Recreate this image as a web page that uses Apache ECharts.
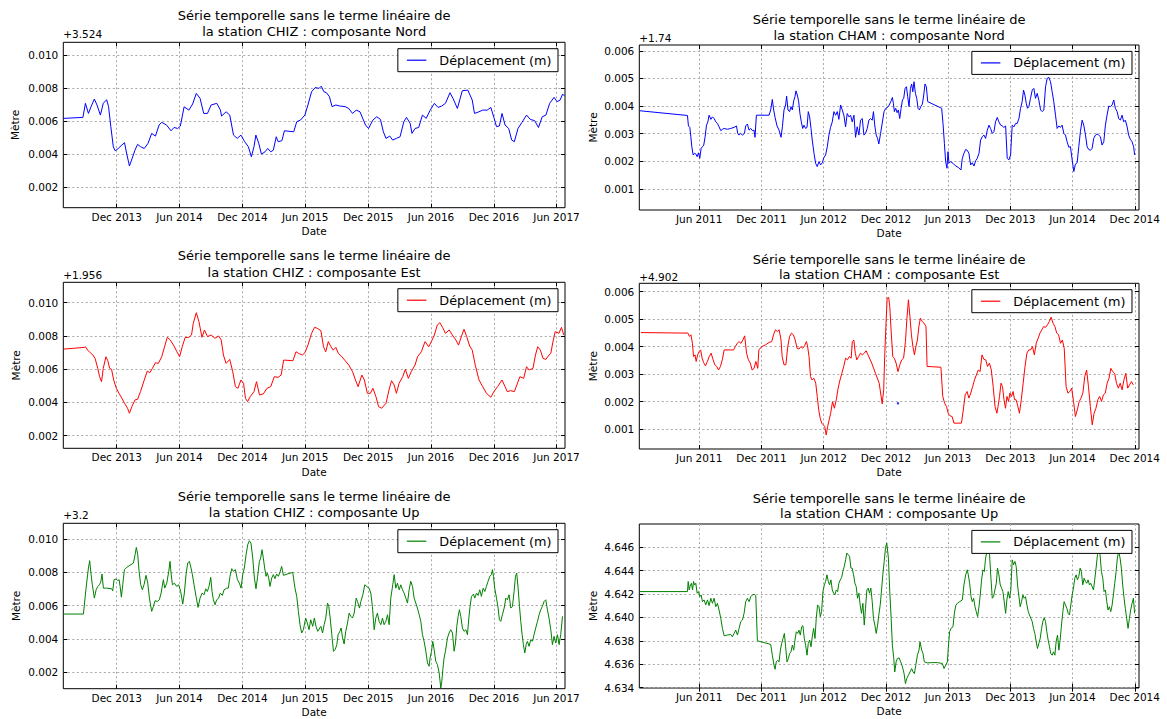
<!DOCTYPE html>
<html><head><meta charset="utf-8">
<script src="https://cdn.jsdelivr.net/npm/echarts@6/dist/echarts.min.js"></script>
<style>html,body{margin:0;padding:0;background:#fff}#c{width:1167px;height:719px}</style>
</head><body><div id="c"></div>
<script>
// x values: decimal years; y values: millimetres relative to each panel's base (offset)
const MONTHS = ['Jan','Feb','Mar','Apr','May','Jun','Jul','Aug','Sep','Oct','Nov','Dec'];
const chizTickLabels = ['Dec 2013','Jun 2014','Dec 2014','Jun 2015','Dec 2015','Jun 2016','Dec 2016','Jun 2017'];
const chamTickLabels = ['Jun 2011','Dec 2011','Jun 2012','Dec 2012','Jun 2013','Dec 2013','Jun 2014','Dec 2014'];
const yTicksChiz = [2,4,6,8,10];
const yTicksChamNE = [1,2,3,4,5,6];
const yTicksChamUp = [0,2,4,6,8,10,12];
const offsetTexts = ['+3.524','+1.74','+1.956','+4.902','+3.2',''];
const chamUpBase = 4.634;

const chizNord = [[2013.492,6.17],[2013.646,6.23],[2013.666,7.08],[2013.690,6.47],[2013.711,6.88],[2013.737,7.34],[2013.758,6.98],[2013.785,6.37],[2013.808,7.08],[2013.835,7.30],[2013.850,6.88],[2013.868,5.67],[2013.888,4.45],[2013.903,4.21],[2013.927,4.35],[2013.956,4.56],[2013.977,4.70],[2013.995,4.01],[2014.016,3.29],[2014.033,3.65],[2014.060,4.25],[2014.081,4.60],[2014.104,4.46],[2014.134,4.35],[2014.164,4.66],[2014.193,5.26],[2014.223,5.10],[2014.252,5.77],[2014.273,5.93],[2014.311,5.77],[2014.347,5.42],[2014.371,5.62],[2014.400,5.56],[2014.421,5.70],[2014.451,6.87],[2014.489,6.67],[2014.519,7.04],[2014.548,7.68],[2014.578,7.38],[2014.607,6.47],[2014.637,6.47],[2014.666,6.98],[2014.711,7.08],[2014.740,6.67],[2014.749,6.31],[2014.785,6.57],[2014.814,6.37],[2014.844,5.16],[2014.874,4.96],[2014.903,5.16],[2014.933,4.76],[2014.962,4.46],[2014.986,3.85],[2015.007,4.46],[2015.022,5.16],[2015.045,4.66],[2015.066,4.01],[2015.095,4.15],[2015.116,4.35],[2015.140,4.15],[2015.161,4.25],[2015.184,5.06],[2015.199,4.76],[2015.229,4.82],[2015.249,5.42],[2015.323,5.36],[2015.347,5.97],[2015.377,6.07],[2015.412,6.37],[2015.436,6.98],[2015.465,7.78],[2015.495,8.04],[2015.524,7.98],[2015.542,8.12],[2015.563,7.78],[2015.584,7.72],[2015.607,7.48],[2015.628,6.88],[2015.658,6.98],[2015.687,6.92],[2015.732,6.88],[2015.761,6.77],[2015.791,6.47],[2015.820,6.67],[2015.850,6.57],[2015.894,5.77],[2015.918,5.56],[2015.953,6.07],[2015.983,6.27],[2016.013,6.11],[2016.036,5.36],[2016.057,4.96],[2016.087,5.10],[2016.110,4.86],[2016.140,4.96],[2016.169,5.06],[2016.199,5.97],[2016.220,6.23],[2016.249,5.87],[2016.264,5.26],[2016.288,5.56],[2016.317,5.62],[2016.347,6.37],[2016.377,6.17],[2016.406,6.63],[2016.442,7.08],[2016.471,6.83],[2016.501,6.92],[2016.530,7.08],[2016.566,7.72],[2016.590,7.38],[2016.625,6.77],[2016.664,7.84],[2016.708,7.88],[2016.743,7.28],[2016.761,6.47],[2016.797,6.57],[2016.826,6.67],[2016.862,6.67],[2016.891,6.83],[2016.915,6.23],[2016.936,5.67],[2016.959,5.71],[2016.980,6.47],[2017.004,5.77],[2017.033,5.56],[2017.057,4.86],[2017.078,4.76],[2017.107,5.56],[2017.137,5.91],[2017.175,6.37],[2017.205,6.11],[2017.240,6.03],[2017.270,5.62],[2017.300,6.27],[2017.329,6.37],[2017.359,7.08],[2017.394,7.44],[2017.418,7.18],[2017.442,7.28],[2017.462,7.64],[2017.477,7.52]];

const chizEst = [[2013.492,7.21],[2013.655,7.31],[2013.666,7.35],[2013.684,7.15],[2013.705,6.99],[2013.726,6.85],[2013.743,6.65],[2013.764,6.05],[2013.779,5.55],[2013.794,5.25],[2013.808,6.05],[2013.829,6.75],[2013.844,6.51],[2013.859,6.05],[2013.874,5.99],[2013.891,5.35],[2013.912,4.85],[2013.933,4.55],[2013.956,4.25],[2013.977,3.95],[2014.001,3.65],[2014.016,3.35],[2014.036,3.75],[2014.060,4.15],[2014.081,4.19],[2014.104,4.65],[2014.134,5.35],[2014.158,5.89],[2014.178,5.79],[2014.199,6.05],[2014.223,6.39],[2014.246,6.35],[2014.273,6.75],[2014.297,7.39],[2014.317,7.92],[2014.341,7.76],[2014.371,7.39],[2014.394,7.05],[2014.415,6.75],[2014.436,7.35],[2014.459,7.90],[2014.489,7.92],[2014.510,8.06],[2014.524,8.76],[2014.548,9.40],[2014.569,8.86],[2014.593,7.92],[2014.613,8.36],[2014.637,7.96],[2014.666,8.06],[2014.696,7.86],[2014.726,8.00],[2014.746,7.76],[2014.764,6.85],[2014.785,6.35],[2014.814,6.59],[2014.838,5.85],[2014.859,4.95],[2014.879,4.85],[2014.903,5.35],[2014.924,5.15],[2014.939,4.25],[2014.956,4.05],[2014.977,4.35],[2015.007,4.65],[2015.027,5.25],[2015.051,4.45],[2015.081,4.51],[2015.110,4.85],[2015.140,4.95],[2015.169,5.55],[2015.199,5.51],[2015.223,5.65],[2015.243,6.55],[2015.317,6.51],[2015.341,7.05],[2015.362,6.95],[2015.391,6.85],[2015.412,6.99],[2015.436,7.45],[2015.465,8.16],[2015.489,8.52],[2015.510,8.46],[2015.539,8.32],[2015.560,7.35],[2015.578,7.05],[2015.598,7.66],[2015.619,7.35],[2015.637,7.15],[2015.658,7.31],[2015.678,6.95],[2015.702,6.79],[2015.732,6.51],[2015.761,6.25],[2015.791,5.85],[2015.814,5.35],[2015.835,4.95],[2015.865,5.65],[2015.885,5.35],[2015.909,4.55],[2015.933,4.55],[2015.953,4.85],[2015.977,4.35],[2015.998,3.75],[2016.022,3.65],[2016.057,3.95],[2016.081,4.75],[2016.101,5.31],[2016.122,5.05],[2016.140,4.55],[2016.161,5.15],[2016.190,5.55],[2016.211,5.99],[2016.235,5.45],[2016.258,5.85],[2016.288,6.25],[2016.308,6.75],[2016.338,7.05],[2016.368,7.66],[2016.397,7.35],[2016.418,7.66],[2016.442,8.06],[2016.465,8.66],[2016.486,8.80],[2016.507,8.52],[2016.530,8.16],[2016.560,8.36],[2016.584,8.06],[2016.613,7.76],[2016.634,7.45],[2016.658,8.00],[2016.678,8.40],[2016.699,7.96],[2016.723,7.39],[2016.743,7.15],[2016.767,6.25],[2016.797,5.35],[2016.826,4.95],[2016.856,4.55],[2016.891,4.31],[2016.915,4.65],[2016.945,4.95],[2016.980,5.35],[2017.004,4.95],[2017.022,4.65],[2017.048,4.71],[2017.078,4.65],[2017.098,5.05],[2017.122,5.55],[2017.152,5.45],[2017.175,6.15],[2017.196,5.95],[2017.226,6.05],[2017.246,6.85],[2017.264,7.35],[2017.285,7.15],[2017.306,6.65],[2017.329,6.59],[2017.353,6.85],[2017.368,6.95],[2017.388,7.76],[2017.403,8.26],[2017.433,8.16],[2017.453,8.52],[2017.471,8.06]];

const chizUp = [[2013.491,5.49],[2013.650,5.49],[2013.671,7.05],[2013.690,8.26],[2013.700,8.70],[2013.711,7.86],[2013.721,7.25],[2013.737,6.45],[2013.751,6.95],[2013.764,7.15],[2013.777,7.25],[2013.788,7.41],[2013.798,7.90],[2013.809,7.05],[2013.835,7.05],[2013.875,7.01],[2013.883,6.89],[2013.894,7.56],[2013.910,7.60],[2013.923,7.50],[2013.934,7.56],[2013.942,7.15],[2013.952,6.51],[2013.963,7.25],[2013.976,8.16],[2013.995,8.30],[2014.048,8.56],[2014.061,9.06],[2014.071,9.50],[2014.082,9.06],[2014.093,8.06],[2014.106,7.25],[2014.119,6.95],[2014.132,7.25],[2014.148,7.82],[2014.162,7.35],[2014.175,6.45],[2014.193,5.65],[2014.207,5.95],[2014.220,6.29],[2014.238,6.25],[2014.254,6.35],[2014.268,6.75],[2014.286,7.56],[2014.297,7.05],[2014.313,7.35],[2014.329,8.06],[2014.339,8.66],[2014.347,7.96],[2014.358,7.25],[2014.374,7.35],[2014.392,7.15],[2014.408,7.25],[2014.424,6.85],[2014.440,6.09],[2014.453,6.75],[2014.466,7.86],[2014.480,8.56],[2014.493,8.66],[2014.506,8.26],[2014.517,7.86],[2014.530,7.25],[2014.546,6.55],[2014.562,5.89],[2014.578,6.45],[2014.594,6.75],[2014.610,6.65],[2014.623,7.01],[2014.636,6.85],[2014.649,7.15],[2014.663,7.70],[2014.673,6.85],[2014.684,6.35],[2014.697,6.05],[2014.710,6.35],[2014.726,6.45],[2014.739,6.75],[2014.755,6.61],[2014.769,6.95],[2014.790,7.05],[2014.803,7.05],[2014.816,7.76],[2014.830,8.22],[2014.843,8.06],[2014.859,8.16],[2014.875,7.56],[2014.891,7.35],[2014.904,7.05],[2014.917,7.86],[2014.930,8.26],[2014.944,9.06],[2014.957,9.66],[2014.970,9.90],[2014.983,9.76],[2014.997,8.86],[2015.010,7.66],[2015.023,7.01],[2015.036,7.76],[2015.050,8.66],[2015.060,8.86],[2015.071,9.36],[2015.081,8.86],[2015.092,8.26],[2015.103,7.76],[2015.113,7.96],[2015.124,7.66],[2015.134,7.15],[2015.148,7.66],[2015.161,7.86],[2015.174,7.62],[2015.187,7.90],[2015.201,7.76],[2015.214,8.02],[2015.227,8.36],[2015.241,7.82],[2015.315,8.00],[2015.333,7.05],[2015.347,6.55],[2015.360,5.65],[2015.373,4.85],[2015.386,4.35],[2015.400,4.55],[2015.418,5.25],[2015.431,4.95],[2015.445,4.55],[2015.458,5.15],[2015.474,4.75],[2015.487,5.25],[2015.500,4.75],[2015.514,4.45],[2015.539,4.75],[2015.552,4.35],[2015.565,4.85],[2015.578,5.25],[2015.592,6.15],[2015.602,5.95],[2015.613,5.25],[2015.626,4.25],[2015.639,3.25],[2015.653,3.35],[2015.666,3.65],[2015.676,4.25],[2015.690,4.45],[2015.700,4.65],[2015.711,4.09],[2015.724,3.69],[2015.737,4.45],[2015.751,4.95],[2015.764,5.55],[2015.777,5.35],[2015.790,5.25],[2015.804,5.55],[2015.820,6.45],[2015.830,6.25],[2015.846,5.85],[2015.857,6.25],[2015.873,6.65],[2015.888,7.25],[2015.904,7.15],[2015.923,7.05],[2015.936,6.75],[2015.949,5.95],[2015.963,4.55],[2015.976,5.25],[2015.989,5.55],[2016.002,5.05],[2016.016,4.85],[2016.029,5.25],[2016.042,4.85],[2016.056,5.05],[2016.069,5.45],[2016.082,4.85],[2016.095,6.45],[2016.111,7.25],[2016.122,7.86],[2016.135,7.05],[2016.148,7.35],[2016.162,6.95],[2016.175,7.25],[2016.188,6.95],[2016.201,6.75],[2016.215,6.45],[2016.228,6.15],[2016.241,6.95],[2016.254,7.46],[2016.268,7.15],[2016.281,6.45],[2016.294,6.15],[2016.307,5.85],[2016.321,5.45],[2016.334,5.05],[2016.347,4.25],[2016.360,3.85],[2016.374,3.25],[2016.387,2.55],[2016.400,2.35],[2016.408,2.85],[2016.419,3.25],[2016.429,3.85],[2016.440,3.35],[2016.453,2.65],[2016.466,2.45],[2016.480,1.95],[2016.493,1.04],[2016.501,1.44],[2016.509,2.14],[2016.519,2.85],[2016.530,3.25],[2016.546,4.05],[2016.559,4.35],[2016.572,4.55],[2016.586,4.35],[2016.599,3.25],[2016.610,3.75],[2016.620,4.75],[2016.631,5.35],[2016.641,5.75],[2016.652,5.35],[2016.665,4.65],[2016.678,4.45],[2016.692,4.55],[2016.705,4.25],[2016.716,5.25],[2016.726,5.95],[2016.737,6.55],[2016.753,6.69],[2016.763,6.45],[2016.777,6.75],[2016.790,6.61],[2016.803,6.95],[2016.816,6.55],[2016.830,7.05],[2016.843,6.85],[2016.856,7.15],[2016.869,7.46],[2016.883,7.76],[2016.896,7.86],[2016.904,8.16],[2016.912,7.76],[2016.922,7.05],[2016.936,6.45],[2016.949,5.85],[2016.959,5.15],[2016.970,5.05],[2016.983,5.45],[2016.997,5.85],[2017.010,6.45],[2017.023,6.35],[2017.036,6.65],[2017.050,5.85],[2017.063,5.95],[2017.076,6.85],[2017.087,7.76],[2017.097,7.96],[2017.108,7.05],[2017.119,5.95],[2017.129,5.05],[2017.140,4.25],[2017.150,3.65],[2017.161,3.15],[2017.172,3.65],[2017.182,3.85],[2017.195,3.55],[2017.209,3.95],[2017.222,3.85],[2017.235,4.25],[2017.248,4.65],[2017.262,5.05],[2017.275,5.45],[2017.288,5.75],[2017.301,5.95],[2017.315,6.25],[2017.328,6.35],[2017.341,5.75],[2017.354,5.25],[2017.368,4.55],[2017.381,3.65],[2017.394,4.15],[2017.407,3.75],[2017.421,4.25],[2017.434,3.65],[2017.447,4.25],[2017.461,5.35]];

const chamNord = [[2010.938,3.83],[2011.320,3.66],[2011.328,3.28],[2011.339,3.23],[2011.347,2.89],[2011.355,2.53],[2011.366,2.23],[2011.377,2.29],[2011.387,2.27],[2011.398,2.17],[2011.409,2.31],[2011.419,2.11],[2011.430,2.47],[2011.441,2.53],[2011.451,2.59],[2011.462,2.89],[2011.473,3.31],[2011.484,3.43],[2011.494,3.67],[2011.508,3.52],[2011.521,3.61],[2011.534,3.55],[2011.548,3.43],[2011.561,3.37],[2011.574,3.25],[2011.588,3.11],[2011.601,3.16],[2011.615,3.19],[2011.641,3.16],[2011.668,3.19],[2011.695,3.23],[2011.714,3.28],[2011.724,3.01],[2011.735,2.95],[2011.748,3.01],[2011.762,2.95],[2011.778,3.01],[2011.788,3.28],[2011.802,3.35],[2011.815,3.13],[2011.829,3.19],[2011.842,3.11],[2011.855,3.13],[2011.863,2.87],[2011.874,3.67],[2011.976,3.67],[2011.989,3.86],[2012.002,4.24],[2012.013,3.86],[2012.024,3.59],[2012.040,3.28],[2012.056,3.13],[2012.072,2.87],[2012.083,3.25],[2012.096,3.86],[2012.109,4.04],[2012.117,4.36],[2012.128,3.86],[2012.141,3.80],[2012.152,3.98],[2012.163,3.86],[2012.174,4.19],[2012.184,4.34],[2012.192,4.55],[2012.203,4.40],[2012.214,4.16],[2012.224,3.73],[2012.235,3.43],[2012.246,3.19],[2012.256,3.31],[2012.270,3.19],[2012.281,3.23],[2012.291,3.80],[2012.302,3.61],[2012.313,3.19],[2012.323,2.77],[2012.337,2.29],[2012.350,1.93],[2012.363,1.81],[2012.377,1.99],[2012.390,1.87],[2012.404,1.95],[2012.417,2.14],[2012.430,2.23],[2012.444,2.53],[2012.457,2.95],[2012.470,3.23],[2012.484,3.43],[2012.497,3.80],[2012.511,3.67],[2012.524,3.80],[2012.537,3.52],[2012.551,4.04],[2012.564,3.86],[2012.577,3.67],[2012.591,3.25],[2012.604,3.73],[2012.618,3.61],[2012.631,3.67],[2012.644,3.43],[2012.658,3.67],[2012.671,2.87],[2012.684,3.25],[2012.698,2.95],[2012.711,3.49],[2012.725,3.55],[2012.738,2.95],[2012.751,3.01],[2012.765,3.19],[2012.778,3.49],[2012.791,3.55],[2012.805,3.49],[2012.815,3.80],[2012.826,3.28],[2012.837,2.95],[2012.848,2.83],[2012.858,2.63],[2012.872,3.01],[2012.900,3.80],[2012.914,3.92],[2012.935,3.98],[2012.954,4.16],[2012.967,4.31],[2012.975,4.10],[2012.983,3.80],[2012.994,3.92],[2013.005,3.76],[2013.015,3.86],[2013.026,3.55],[2013.037,3.92],[2013.048,4.22],[2013.058,4.28],[2013.069,4.64],[2013.080,4.70],[2013.090,4.34],[2013.101,3.98],[2013.112,4.64],[2013.122,4.80],[2013.131,4.52],[2013.141,4.88],[2013.152,4.46],[2013.163,4.28],[2013.173,3.92],[2013.184,3.86],[2013.195,3.98],[2013.208,4.07],[2013.219,4.40],[2013.229,4.80],[2013.240,4.70],[2013.251,4.16],[2013.363,3.92],[2013.374,3.37],[2013.385,2.65],[2013.395,1.99],[2013.406,1.75],[2013.414,2.35],[2013.422,1.93],[2013.435,1.99],[2013.454,1.93],[2013.476,1.83],[2013.497,1.78],[2013.518,1.69],[2013.529,2.11],[2013.542,2.29],[2013.556,2.43],[2013.569,2.40],[2013.582,2.29],[2013.596,1.87],[2013.609,1.95],[2013.623,1.83],[2013.636,2.02],[2013.649,2.11],[2013.663,2.29],[2013.676,2.77],[2013.689,2.89],[2013.703,2.95],[2013.716,2.83],[2013.730,3.13],[2013.743,3.31],[2013.756,3.19],[2013.770,3.01],[2013.783,3.07],[2013.796,3.43],[2013.810,3.59],[2013.823,3.43],[2013.837,3.31],[2013.850,3.28],[2013.863,3.23],[2013.877,3.28],[2013.890,2.11],[2013.903,2.05],[2013.917,2.23],[2013.930,3.31],[2013.944,3.25],[2013.957,3.37],[2013.970,3.37],[2013.984,3.55],[2013.997,3.92],[2014.010,4.16],[2014.021,4.58],[2014.032,4.40],[2014.043,4.10],[2014.053,3.92],[2014.064,3.98],[2014.077,4.28],[2014.091,4.58],[2014.104,4.64],[2014.117,4.28],[2014.131,4.46],[2014.144,4.22],[2014.158,3.86],[2014.171,3.80],[2014.184,3.86],[2014.198,4.70],[2014.211,5.00],[2014.224,5.04],[2014.238,4.88],[2014.251,4.52],[2014.264,4.16],[2014.278,3.67],[2014.291,3.19],[2014.305,3.28],[2014.318,3.23],[2014.331,3.31],[2014.345,3.01],[2014.358,2.95],[2014.371,2.71],[2014.385,2.51],[2014.398,2.53],[2014.412,2.05],[2014.425,1.63],[2014.438,1.90],[2014.452,1.95],[2014.465,2.53],[2014.478,3.07],[2014.492,3.49],[2014.505,3.31],[2014.519,2.95],[2014.532,2.53],[2014.545,2.43],[2014.559,2.40],[2014.572,2.47],[2014.585,2.83],[2014.599,2.95],[2014.612,2.99],[2014.625,2.95],[2014.639,2.89],[2014.652,2.59],[2014.666,2.71],[2014.679,3.31],[2014.692,3.67],[2014.706,4.00],[2014.719,3.98],[2014.733,4.04],[2014.746,4.22],[2014.759,3.92],[2014.773,3.80],[2014.786,3.55],[2014.799,3.49],[2014.813,3.67],[2014.826,3.43],[2014.839,3.49],[2014.852,3.28],[2014.866,2.95],[2014.879,2.80],[2014.893,2.71],[2014.906,2.53],[2014.914,2.23]];

const chamEst = [[2010.946,4.51],[2011.324,4.49],[2011.336,4.37],[2011.348,4.43],[2011.360,4.12],[2011.369,3.64],[2011.381,3.70],[2011.390,3.46],[2011.402,3.70],[2011.414,3.82],[2011.426,3.88],[2011.438,3.58],[2011.450,3.42],[2011.465,3.30],[2011.480,3.46],[2011.495,3.64],[2011.510,3.76],[2011.525,3.54],[2011.540,3.34],[2011.555,3.28],[2011.570,3.15],[2011.585,3.28],[2011.600,3.52],[2011.615,3.88],[2011.660,3.88],[2011.690,3.88],[2011.705,4.00],[2011.720,4.12],[2011.735,4.18],[2011.750,4.12],[2011.765,4.24],[2011.780,4.39],[2011.795,3.76],[2011.810,3.52],[2011.825,3.40],[2011.840,3.15],[2011.855,3.21],[2011.870,3.46],[2011.885,3.21],[2011.894,3.88],[2011.916,4.00],[2011.946,4.06],[2011.976,4.15],[2011.997,4.18],[2012.012,4.43],[2012.027,4.61],[2012.042,4.55],[2012.057,4.61],[2012.072,4.24],[2012.081,3.64],[2012.096,3.34],[2012.111,3.34],[2012.126,4.00],[2012.141,4.37],[2012.156,4.49],[2012.171,4.43],[2012.186,4.24],[2012.201,3.94],[2012.216,3.91],[2012.231,4.00],[2012.246,3.94],[2012.261,4.03],[2012.276,4.18],[2012.285,4.03],[2012.297,3.64],[2012.309,2.91],[2012.321,2.79],[2012.336,2.85],[2012.351,2.67],[2012.363,2.19],[2012.375,1.70],[2012.387,1.40],[2012.399,1.22],[2012.411,1.16],[2012.423,1.10],[2012.435,0.79],[2012.447,1.10],[2012.459,1.34],[2012.471,1.58],[2012.486,2.00],[2012.501,1.76],[2012.516,2.07],[2012.531,2.49],[2012.546,2.79],[2012.561,3.03],[2012.576,3.28],[2012.591,3.58],[2012.606,3.52],[2012.621,3.64],[2012.636,3.58],[2012.645,4.18],[2012.657,4.24],[2012.669,3.76],[2012.681,3.52],[2012.696,3.64],[2012.711,3.76],[2012.726,3.70],[2012.741,3.76],[2012.756,3.85],[2012.771,3.70],[2012.801,3.40],[2012.831,3.03],[2012.861,2.67],[2012.885,1.92],[2012.897,2.43],[2012.906,3.76],[2012.916,4.85],[2012.925,5.76],[2012.937,5.79],[2012.946,5.46],[2012.958,4.49],[2012.970,3.64],[2012.982,3.58],[2012.997,3.40],[2013.012,3.09],[2013.027,3.34],[2013.042,3.52],[2013.057,3.58],[2013.072,4.18],[2013.084,5.03],[2013.096,5.70],[2013.108,5.09],[2013.120,4.43],[2013.132,4.00],[2013.144,3.70],[2013.156,4.00],[2013.168,4.24],[2013.180,4.73],[2013.192,5.03],[2013.207,4.91],[2013.222,4.85],[2013.237,4.73],[2013.246,3.28],[2013.357,3.25],[2013.372,2.19],[2013.387,1.94],[2013.402,1.82],[2013.417,1.56],[2013.432,1.48],[2013.447,1.46],[2013.462,1.22],[2013.522,1.22],[2013.537,1.70],[2013.552,2.25],[2013.567,2.37],[2013.582,2.13],[2013.597,2.31],[2013.612,2.55],[2013.627,2.79],[2013.642,2.97],[2013.657,3.15],[2013.672,3.09],[2013.687,3.70],[2013.702,3.54],[2013.717,3.52],[2013.732,3.28],[2013.747,3.40],[2013.762,3.15],[2013.777,2.55],[2013.792,1.82],[2013.807,1.58],[2013.816,1.82],[2013.828,2.19],[2013.840,2.67],[2013.852,2.55],[2013.864,2.07],[2013.876,1.76],[2013.888,2.19],[2013.900,2.01],[2013.912,2.31],[2013.924,2.19],[2013.937,2.37],[2013.949,2.07],[2013.961,2.07],[2013.973,1.88],[2013.988,1.58],[2014.003,2.07],[2014.018,2.67],[2014.033,3.28],[2014.048,3.76],[2014.063,3.88],[2014.078,3.88],[2014.093,4.00],[2014.108,3.70],[2014.123,4.12],[2014.138,4.30],[2014.153,4.49],[2014.168,4.61],[2014.183,4.73],[2014.198,4.70],[2014.213,4.79],[2014.228,4.91],[2014.243,5.07],[2014.258,4.85],[2014.273,4.73],[2014.288,4.49],[2014.303,4.43],[2014.318,4.12],[2014.333,4.24],[2014.348,3.94],[2014.363,2.55],[2014.378,2.31],[2014.393,2.37],[2014.408,2.49],[2014.423,2.00],[2014.438,1.46],[2014.453,1.70],[2014.468,2.00],[2014.483,2.13],[2014.498,2.31],[2014.513,2.91],[2014.528,3.15],[2014.543,2.55],[2014.558,1.82],[2014.573,1.16],[2014.588,1.58],[2014.603,1.76],[2014.618,2.07],[2014.633,2.19],[2014.648,2.01],[2014.663,2.25],[2014.678,2.31],[2014.693,2.67],[2014.708,2.85],[2014.723,3.21],[2014.738,3.09],[2014.753,3.03],[2014.768,2.67],[2014.783,2.49],[2014.798,2.67],[2014.813,2.43],[2014.828,2.79],[2014.843,3.03],[2014.858,2.49],[2014.873,2.61],[2014.888,2.73],[2014.903,2.61]];
const chamEstStray = [[2013.012,1.94]];

const chamUp = [[2010.938,8.20],[2011.320,8.20],[2011.326,9.06],[2011.334,8.34],[2011.344,8.77],[2011.352,8.91],[2011.361,8.34],[2011.369,9.06],[2011.377,8.77],[2011.387,8.91],[2011.398,8.06],[2011.409,8.20],[2011.419,7.77],[2011.430,7.91],[2011.441,7.34],[2011.454,7.49],[2011.467,7.06],[2011.481,7.49],[2011.494,7.00],[2011.508,7.63],[2011.521,7.20],[2011.534,7.63],[2011.548,6.91],[2011.561,7.20],[2011.574,6.63],[2011.588,5.91],[2011.601,5.06],[2011.615,4.43],[2011.641,4.49],[2011.668,4.54],[2011.681,4.34],[2011.695,4.63],[2011.708,4.91],[2011.722,4.49],[2011.735,5.06],[2011.748,5.63],[2011.762,5.77],[2011.775,6.34],[2011.788,7.34],[2011.802,7.63],[2011.815,7.34],[2011.829,7.77],[2011.842,7.91],[2011.855,7.97],[2011.869,7.86],[2011.882,4.00],[2011.989,3.69],[2012.002,2.77],[2012.016,1.91],[2012.024,1.57],[2012.034,2.20],[2012.045,2.34],[2012.056,2.20],[2012.067,3.20],[2012.077,3.77],[2012.088,4.20],[2012.099,4.63],[2012.109,3.49],[2012.120,2.20],[2012.131,2.49],[2012.141,2.91],[2012.152,3.06],[2012.163,3.63],[2012.174,3.20],[2012.184,4.06],[2012.195,4.77],[2012.206,4.63],[2012.216,4.91],[2012.227,4.49],[2012.238,5.20],[2012.248,5.29],[2012.259,4.20],[2012.270,3.63],[2012.281,2.77],[2012.291,3.77],[2012.302,4.06],[2012.313,3.49],[2012.323,4.34],[2012.334,5.06],[2012.345,4.20],[2012.355,5.91],[2012.366,7.06],[2012.377,6.91],[2012.388,6.06],[2012.398,6.49],[2012.409,8.20],[2012.420,8.77],[2012.430,9.06],[2012.441,9.63],[2012.452,9.06],[2012.462,8.77],[2012.473,9.20],[2012.484,8.34],[2012.495,8.06],[2012.505,7.91],[2012.516,8.34],[2012.527,8.20],[2012.537,8.91],[2012.548,9.20],[2012.559,9.40],[2012.569,9.91],[2012.580,10.34],[2012.591,10.91],[2012.601,11.49],[2012.612,11.34],[2012.623,11.20],[2012.634,10.20],[2012.644,10.20],[2012.655,9.63],[2012.666,8.91],[2012.676,8.63],[2012.687,7.63],[2012.698,8.06],[2012.708,7.06],[2012.719,6.34],[2012.730,7.20],[2012.741,5.34],[2012.751,6.77],[2012.762,8.34],[2012.773,8.49],[2012.783,8.06],[2012.794,8.49],[2012.805,7.34],[2012.815,5.91],[2012.826,5.34],[2012.837,4.63],[2012.848,5.34],[2012.858,6.20],[2012.869,7.06],[2012.880,8.34],[2012.890,9.63],[2012.901,10.77],[2012.912,11.97],[2012.922,12.34],[2012.935,11.06],[2012.946,8.20],[2012.957,5.91],[2012.967,3.63],[2012.978,2.49],[2012.986,1.34],[2012.997,2.20],[2013.007,2.49],[2013.021,2.54],[2013.034,2.20],[2013.048,1.77],[2013.061,1.20],[2013.072,0.34],[2013.082,0.77],[2013.096,1.06],[2013.109,1.34],[2013.122,1.63],[2013.133,1.34],[2013.144,1.20],[2013.155,1.91],[2013.168,2.77],[2013.181,3.20],[2013.189,3.91],[2013.203,3.20],[2013.213,2.91],[2013.224,2.20],[2013.248,2.11],[2013.288,2.14],[2013.328,2.14],[2013.369,2.06],[2013.382,1.63],[2013.395,1.91],[2013.409,2.20],[2013.417,3.49],[2013.427,4.77],[2013.438,5.06],[2013.454,5.20],[2013.465,6.34],[2013.476,7.00],[2013.489,7.20],[2013.508,7.34],[2013.529,7.49],[2013.542,8.77],[2013.556,9.63],[2013.569,10.06],[2013.577,9.63],[2013.588,8.91],[2013.599,7.77],[2013.609,7.34],[2013.620,7.63],[2013.631,6.91],[2013.641,6.49],[2013.652,6.06],[2013.663,6.91],[2013.673,7.91],[2013.684,9.20],[2013.695,10.06],[2013.706,9.91],[2013.716,11.06],[2013.727,11.63],[2013.738,11.91],[2013.748,11.34],[2013.759,9.34],[2013.770,7.63],[2013.780,7.77],[2013.791,8.34],[2013.802,8.91],[2013.812,10.20],[2013.823,9.63],[2013.834,8.77],[2013.845,8.49],[2013.855,8.20],[2013.866,7.34],[2013.877,6.34],[2013.887,7.49],[2013.898,8.20],[2013.909,7.63],[2013.919,8.34],[2013.930,10.91],[2013.941,10.49],[2013.952,10.77],[2013.962,10.34],[2013.973,8.77],[2013.984,7.77],[2013.994,6.91],[2014.005,7.34],[2014.016,7.91],[2014.026,7.63],[2014.037,7.77],[2014.048,7.06],[2014.059,6.49],[2014.069,6.20],[2014.080,5.91],[2014.091,5.63],[2014.101,5.06],[2014.112,4.63],[2014.123,3.91],[2014.133,3.34],[2014.144,3.77],[2014.155,4.20],[2014.166,5.06],[2014.176,5.63],[2014.187,5.97],[2014.198,5.63],[2014.208,4.77],[2014.219,4.06],[2014.230,3.49],[2014.240,2.91],[2014.251,2.77],[2014.262,3.06],[2014.273,2.77],[2014.283,3.91],[2014.294,4.49],[2014.305,3.20],[2014.315,4.06],[2014.326,5.34],[2014.337,6.49],[2014.347,7.34],[2014.358,7.06],[2014.369,6.77],[2014.380,6.34],[2014.390,6.20],[2014.401,7.06],[2014.412,7.91],[2014.422,8.49],[2014.433,9.34],[2014.444,9.63],[2014.454,9.20],[2014.465,9.49],[2014.476,10.20],[2014.486,9.91],[2014.497,8.77],[2014.508,9.34],[2014.519,9.06],[2014.529,8.91],[2014.540,9.20],[2014.551,8.77],[2014.561,8.91],[2014.572,8.63],[2014.583,8.34],[2014.593,9.20],[2014.604,10.20],[2014.615,11.34],[2014.625,11.91],[2014.636,11.34],[2014.647,9.91],[2014.658,9.34],[2014.668,8.20],[2014.679,8.34],[2014.690,7.34],[2014.700,6.63],[2014.711,6.91],[2014.722,6.49],[2014.733,7.06],[2014.743,7.91],[2014.754,8.91],[2014.765,9.91],[2014.775,11.06],[2014.786,11.63],[2014.797,11.06],[2014.807,10.20],[2014.818,8.77],[2014.829,7.63],[2014.839,6.77],[2014.850,5.91],[2014.861,5.06],[2014.872,5.91],[2014.882,6.63],[2014.893,7.20],[2014.904,7.63],[2014.914,6.34]];

// ---------- chart construction ----------
const FONT = 'DejaVu Sans';
function decYear(label){
  const parts = label.split(' ');
  const yr = +parts[1], mi = MONTHS.indexOf(parts[0]);
  const s = Date.UTC(yr,0,1), e = Date.UTC(yr+1,0,1);
  return yr + (Date.UTC(yr,mi,1) - s) / (e - s);
}
const panels = [
  {name:'CHIZ Nord', station:'CHIZ', comp:'Nord', data:chizNord, color:'#0000ff', ticks:chizTickLabels, yTicks:yTicksChiz, off:offsetTexts[0], base:null,
   xr:[2013.490,2017.481], yr:[0.77,10.77], L:{l:63.3,t:42.3,w:501.7,h:165.4,t1:15.7,t2:31.7,off:34.3,ym:15}},
  {name:'CHAM Nord', station:'CHAM', comp:'Nord', data:chamNord, color:'#0000ff', ticks:chamTickLabels, yTicks:yTicksChamNE, off:offsetTexts[1], base:null,
   xr:[2010.933,2014.949], yr:[0.24,6.21], L:{l:639.3,t:45,w:499.7,h:165,t1:19.3,t2:35,off:38.3,ym:593}},
  {name:'CHIZ Est', station:'CHIZ', comp:'Est', data:chizEst, color:'#ff0000', ticks:chizTickLabels, yTicks:yTicksChiz, off:offsetTexts[2], base:null,
   xr:[2013.490,2017.481], yr:[1.24,11.23], L:{l:63.3,t:282.3,w:501.7,h:166,t1:255.7,t2:272.3,off:275,ym:15.5}},
  {name:'CHAM Est', station:'CHAM', comp:'Est', data:chamEst, color:'#ff0000', ticks:chamTickLabels, yTicks:yTicksChamNE, off:offsetTexts[3], base:null,
   xr:[2010.933,2014.949], yr:[0.28,6.30], L:{l:639.3,t:283.3,w:499.7,h:165.7,t1:259,t2:274.3,off:277.3,ym:593}},
  {name:'CHIZ Up', station:'CHIZ', comp:'Up', data:chizUp, color:'#008000', ticks:chizTickLabels, yTicks:yTicksChiz, off:offsetTexts[4], base:null,
   xr:[2013.490,2017.481], yr:[1.0,10.95], L:{l:63.3,t:523.3,w:501.7,h:165.4,t1:496.7,t2:512.3,off:515,ym:15.5}},
  {name:'CHAM Up', station:'CHAM', comp:'Up', data:chamUp, color:'#008000', ticks:chamTickLabels, yTicks:yTicksChamUp, off:offsetTexts[5], base:chamUpBase,
   xr:[2010.933,2014.949], yr:[-0.03,13.97], L:{l:639.3,t:524,w:499.7,h:164,t1:498.3,t2:513.3,off:0,ym:593}}
];

const grids=[], xAxes=[], yAxes=[], series=[], legends=[], graphics=[];
const tickStyle = {show:true, inside:true, length:4, lineStyle:{color:'#000', width:1}};
const splitStyle = {show:true, lineStyle:{color:'#a8a8a8', width:1, type:[2,2.5]}};
const labelStyle = {fontSize:10.5, fontFamily:FONT, color:'#000'};

panels.forEach((p, i) => {
  const L = p.L;
  grids.push({left:L.l, top:L.t, width:L.w, height:L.h, show:true, borderColor:'#000', borderWidth:1, backgroundColor:'rgba(0,0,0,0)'});
  const xt = p.ticks.map(decYear);
  const xLab = v => { const k = xt.findIndex(t => Math.abs(t - v) < 1e-6); return k >= 0 ? p.ticks[k] : ''; };
  const yLab = v => p.base === null ? (v/1000).toFixed(3) : (p.base + v/1000).toFixed(3);
  xAxes.push({type:'value', gridIndex:i, position:'bottom', min:p.xr[0], max:p.xr[1],
    axisLine:{show:false}, axisTick:Object.assign({customValues:xt}, tickStyle),
    axisLabel:Object.assign({customValues:xt, formatter:xLab, margin:3.5}, labelStyle),
    splitLine:splitStyle});
  xAxes.push({type:'value', gridIndex:i, position:'top', min:p.xr[0], max:p.xr[1],
    axisLine:{show:false}, axisTick:Object.assign({customValues:xt}, tickStyle),
    axisLabel:{show:false}, splitLine:{show:false}});
  yAxes.push({type:'value', gridIndex:i, position:'left', min:p.yr[0], max:p.yr[1],
    axisLine:{show:false}, axisTick:Object.assign({customValues:p.yTicks}, tickStyle),
    axisLabel:Object.assign({customValues:p.yTicks, formatter:yLab, margin:5}, labelStyle),
    splitLine:splitStyle});
  yAxes.push({type:'value', gridIndex:i, position:'right', min:p.yr[0], max:p.yr[1],
    axisLine:{show:false}, axisTick:Object.assign({customValues:p.yTicks}, tickStyle),
    axisLabel:{show:false}, splitLine:{show:false}});
  series.push({type:'line', name:p.name, xAxisIndex:2*i, yAxisIndex:2*i, data:p.data,
    symbol:'none', showSymbol:false, silent:true, animation:false,
    lineStyle:{width:1, color:p.color}, itemStyle:{color:p.color}, z:3});
  legends.push({data:[p.name], orient:'horizontal', right:1167 - (L.l + L.w - 7), top:L.t + 6.4,
    padding:[5,6.5,5,9], itemWidth:19.5, itemHeight:1.2, icon:'rect', selectedMode:false,
    borderColor:'#000', borderWidth:1, borderRadius:0, backgroundColor:'#fff',
    formatter:() => 'Déplacement (m)',
    textStyle:{fontSize:12.8, fontFamily:FONT, color:'#000', padding:[0,0,0,8]}});
  const cx = L.l + L.w/2;
  graphics.push({type:'text', x:cx, y:L.t1, silent:true, style:{text:'Série temporelle sans le terme linéaire de', font:'13px "DejaVu Sans"', fill:'#000', align:'center', verticalAlign:'middle'}});
  graphics.push({type:'text', x:cx, y:L.t2, silent:true, style:{text:'la station ' + p.station + ' : composante ' + p.comp, font:'13px "DejaVu Sans"', fill:'#000', align:'center', verticalAlign:'middle'}});
  if (p.off) graphics.push({type:'text', x:L.l, y:L.off, silent:true, style:{text:p.off, font:'10.5px "DejaVu Sans"', fill:'#000', align:'left', verticalAlign:'middle'}});
  graphics.push({type:'text', x:cx, y:L.t + L.h + 23.3, silent:true, style:{text:'Date', font:'10.5px "DejaVu Sans"', fill:'#000', align:'center', verticalAlign:'middle'}});
  graphics.push({type:'text', x:L.ym, y:L.t + L.h/2, rotation:Math.PI/2, silent:true, style:{text:'Mètre', font:'10.5px "DejaVu Sans"', fill:'#000', align:'center', verticalAlign:'middle'}});
});
// stray blue sample visible in the CHAM Est panel
series.push({type:'scatter', name:'stray', xAxisIndex:6, yAxisIndex:6, data:chamEstStray, symbolSize:2.5, itemStyle:{color:'#0000ff'}, silent:true, animation:false, z:4});

const chart = echarts.init(document.getElementById('c'), null, {renderer:'svg', width:1167, height:719});
chart.setOption({
  animation:false, backgroundColor:'#fff',
  textStyle:{fontFamily:FONT},
  grid:grids, xAxis:xAxes, yAxis:yAxes, series:series, legend:legends, graphic:graphics
});
</script></body></html>
